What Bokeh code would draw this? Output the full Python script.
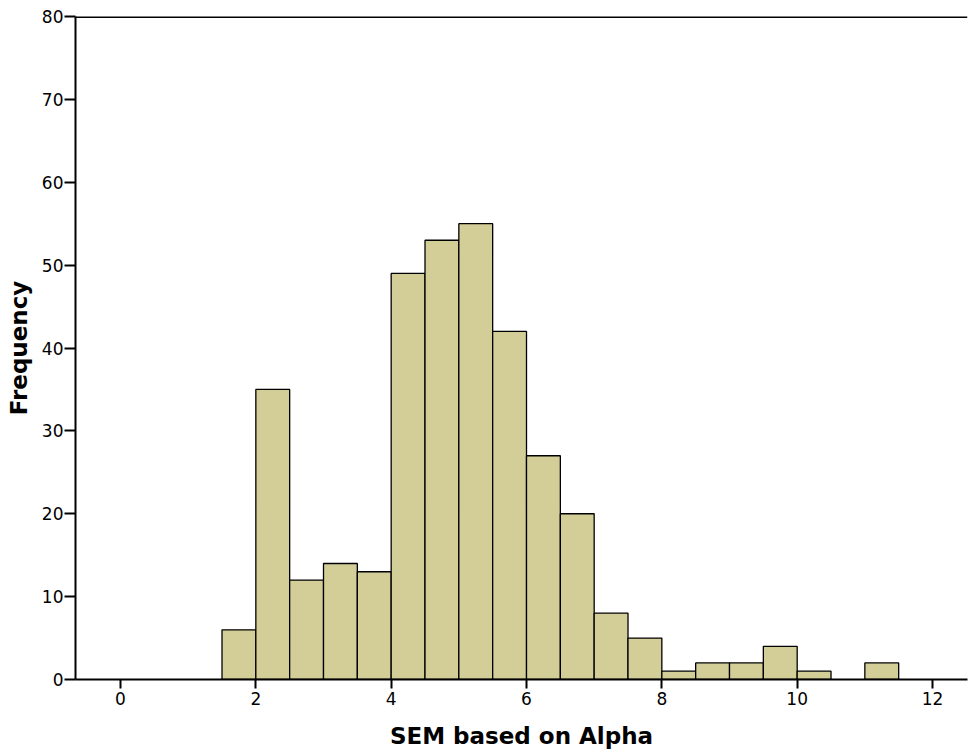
from bokeh.plotting import figure
from bokeh.models import Range1d, FixedTicker, Span
from bokeh.embed import file_html
from bokeh.resources import INLINE

bin_left = [1.5, 2.0, 2.5, 3.0, 3.5, 4.0, 4.5, 5.0, 5.5, 6.0, 6.5, 7.0, 7.5, 8.0, 8.5, 9.0, 9.5, 10.0, 10.5, 11.0]
bin_right = [b + 0.5 for b in bin_left]
counts = [6, 35, 12, 14, 13, 49, 53, 55, 42, 27, 20, 8, 5, 1, 2, 2, 4, 1, 0, 2]
x_ticks = [0, 2, 4, 6, 8, 10, 12]
y_ticks = [0, 10, 20, 30, 40, 50, 60, 70, 80]

FONT = "DejaVu Sans"

p = figure(width=968, height=751, output_backend="svg", toolbar_location=None,
           x_range=Range1d(-0.665, 12.517), y_range=Range1d(0, 80),
           min_border_left=75, min_border_right=1, min_border_top=16, min_border_bottom=71)
p.outline_line_color = None
p.grid.visible = False
p.background_fill_color = "white"

nz = [i for i, c in enumerate(counts) if c > 0]
p.quad(left=[bin_left[i] for i in nz], right=[bin_right[i] for i in nz],
       bottom=0, top=[counts[i] for i in nz],
       fill_color="#d3ce98", line_color="black", line_width=1.3)

for ax in (p.xaxis[0], p.yaxis[0]):
    ax.axis_line_width = 2
    ax.axis_line_color = "black"
    ax.major_tick_line_width = 2
    ax.major_tick_line_color = "black"
    ax.major_tick_in = 0
    ax.minor_tick_line_color = None
    ax.major_label_text_font = FONT
    ax.major_label_text_font_size = "17px"
    ax.major_label_text_color = "black"
    ax.axis_label_text_font = FONT
    ax.axis_label_text_font_style = "bold"
    ax.axis_label_text_font_size = "23px"
    ax.axis_label_text_color = "black"

p.xaxis.ticker = FixedTicker(ticks=x_ticks)
p.yaxis.ticker = FixedTicker(ticks=y_ticks)
p.xaxis.major_tick_out = 9
p.yaxis.major_tick_out = 11
p.xaxis.major_label_standoff = 3
p.yaxis.major_label_standoff = 1
p.xaxis.axis_label = "SEM based on Alpha"
p.yaxis.axis_label = "Frequency"
p.xaxis.axis_label_standoff = 15
p.yaxis.axis_label_standoff = 7

p.add_layout(Span(location=80, dimension="width", line_color="black", line_width=3))

open("out.html", "w").write(file_html(p, INLINE))
